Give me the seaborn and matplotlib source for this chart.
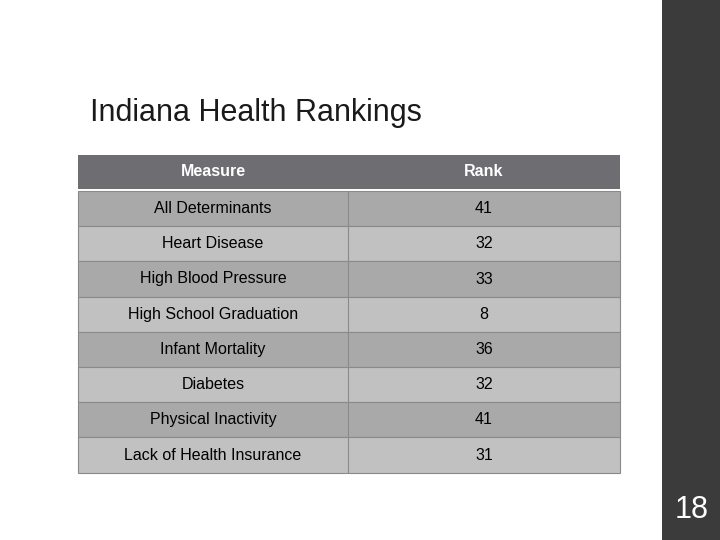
import matplotlib
matplotlib.use("Agg")
import matplotlib.pyplot as plt
import seaborn as sns
from matplotlib.patches import Rectangle

sns.set_theme(style="white")

title = "Indiana Health Rankings"
headers = ["Measure", "Rank"]
measures = ["All Determinants", "Heart Disease", "High Blood Pressure",
            "High School Graduation", "Infant Mortality", "Diabetes",
            "Physical Inactivity", "Lack of Health Insurance"]
ranks = [41, 32, 33, 8, 36, 32, 41, 31]
page = "18"

fig = plt.figure(figsize=(7.2, 5.4), dpi=100)
ax = fig.add_axes([0, 0, 1, 1])
ax.set_xlim(0, 720)
ax.set_ylim(540, 0)
ax.axis("off")

ax.add_patch(Rectangle((662, 0), 58, 540, color="#3b3b3b", lw=0))
ax.text(692, 510, page, color="white", fontsize=22, ha="center", va="center",
        family="Liberation Sans")
ax.text(90, 113, title, fontsize=22, ha="left", va="center", color="#1a1a1a",
        family="Liberation Sans")

x0, xm, x1 = 78, 348, 620
y0, hh, rh = 155, 34, 35.2
ax.add_patch(Rectangle((x0, y0), x1 - x0, hh, color="#6e6d72", lw=0))
ax.text((x0 + xm) / 2, y0 + hh / 2, headers[0], color="white", fontsize=11.5,
        weight="bold", ha="center", va="center", family="Liberation Sans")
ax.text((xm + x1) / 2, y0 + hh / 2, headers[1], color="white", fontsize=11.5,
        weight="bold", ha="center", va="center", family="Liberation Sans")
top = y0 + hh + 2
for i, (m, r) in enumerate(zip(measures, ranks)):
    y = top + i * rh
    c = "#a9a9a9" if i % 2 == 0 else "#c1c1c1"
    ax.add_patch(Rectangle((x0, y), x1 - x0, rh, facecolor=c, edgecolor="#8a8a8a", lw=0.8))
    ax.plot([xm, xm], [y, y + rh], color="#8a8a8a", lw=0.8)
    ax.text((x0 + xm) / 2, y + rh / 2, m, fontsize=11.5, ha="center", va="center",
            color="black", family="Liberation Sans")
    ax.text((xm + x1) / 2, y + rh / 2, str(r), fontsize=11.5, ha="center", va="center",
            color="black", family="Liberation Sans")

fig.savefig("out.png", dpi=100)
